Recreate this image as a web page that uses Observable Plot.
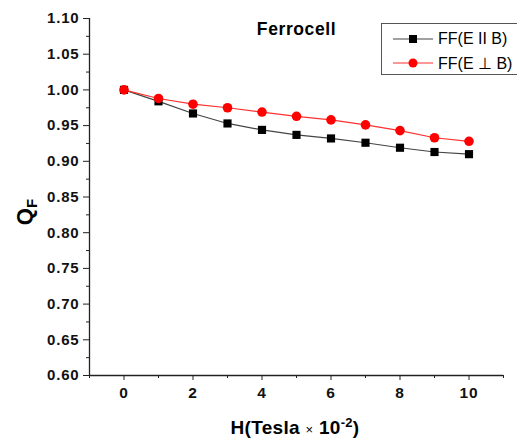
<!DOCTYPE html>
<html>
<head>
<meta charset="utf-8">
<script src="https://cdn.jsdelivr.net/npm/d3@7"></script>
<script src="https://cdn.jsdelivr.net/npm/@observablehq/plot@0.6"></script>
<style>
  html, body { margin: 0; padding: 0; background: #fff; }
  #wrap { position: relative; width: 517px; height: 443px; overflow: hidden; font-family: "Liberation Sans", Arial, sans-serif; }
  #wrap svg { display: block; }
  #wrap svg [aria-label="y-axis tick label"] text, #wrap svg [aria-label="x-axis tick label"] text { letter-spacing: 0.8px; }
  #wrap svg [aria-label="text"] text { letter-spacing: 0.6px; }
  .lbl { position: absolute; font-weight: bold; color: #000; white-space: nowrap; }
  #legend { position: absolute; left: 381px; top: 23px; width: 150px; height: 50px; border: 1px solid #555; background: #fff; font-size: 16px; }
  #legend .row { position: absolute; left: 0; height: 24px; display: flex; align-items: center; }
</style>
</head>
<body>
<div id="wrap"></div>
<script>
const fieldH = [0, 1, 2, 3, 4, 5, 6, 7, 8, 9, 10];
const qfParallel = [1.000, 0.984, 0.967, 0.953, 0.944, 0.937, 0.932, 0.926, 0.919, 0.913, 0.910];
const qfPerp     = [1.000, 0.988, 0.980, 0.975, 0.969, 0.963, 0.958, 0.951, 0.943, 0.933, 0.928];
const seriesNames = ["FF(E II B)", "FF(E \u22A5 B)"];
const yMajorTicks = [0.60, 0.65, 0.70, 0.75, 0.80, 0.85, 0.90, 0.95, 1.00, 1.05, 1.10];
const yMinorTicks = [0.625, 0.675, 0.725, 0.775, 0.825, 0.875, 0.925, 0.975, 1.025, 1.075];
const xMajorTicks = [0, 2, 4, 6, 8, 10];
const xMinorTicks = [-1, 1, 3, 5, 7, 9, 11];
const chartTitle = "Ferrocell";

const par = fieldH.map((h, i) => ({h, q: qfParallel[i]}));
const perp = fieldH.map((h, i) => ({h, q: qfPerp[i]}));

const plot = Plot.plot({
  width: 517,
  height: 443,
  marginLeft: 89,
  marginRight: 14,
  marginTop: 18,
  marginBottom: 68,
  style: {fontFamily: "'Liberation Sans', Arial, sans-serif", background: "#fff", overflow: "visible"},
  x: {domain: [-1, 11]},
  y: {domain: [0.6, 1.1]},
  marks: [
    Plot.axisY({ticks: yMinorTicks, tickSize: 3, tickFormat: () => "", label: null, stroke: "#222"}),
    Plot.axisY({ticks: yMajorTicks, tickSize: 6, tickPadding: 4, tickFormat: d3.format(".2f"), label: null, fontSize: 15, fontWeight: "bold", fill: "#111", stroke: "#222"}),
    Plot.axisX({ticks: xMinorTicks, tickSize: 3, tickFormat: () => "", label: null, stroke: "#222"}),
    Plot.axisX({ticks: xMajorTicks, tickSize: 5, tickPadding: 6, label: null, fontSize: 15.5, fontWeight: "bold", fill: "#111", stroke: "#222"}),
    Plot.ruleX([-1], {stroke: "#222", strokeWidth: 1.3}),
    Plot.ruleY([0.6], {stroke: "#222", strokeWidth: 1.3}),
    Plot.line(par, {x: "h", y: "q", stroke: "#444", strokeWidth: 1.2}),
    Plot.line(perp, {x: "h", y: "q", stroke: "#ff3030", strokeWidth: 1.2}),
    Plot.dot(par, {x: "h", y: "q", symbol: "square", r: 4.6, fill: "#000"}),
    Plot.dot(perp, {x: "h", y: "q", r: 4.8, fill: "#ff0000"}),
    Plot.text([chartTitle], {frameAnchor: "top-left", dx: 207, dy: 4, fontSize: 17.5, fontWeight: "bold", fill: "#000", lineAnchor: "top", textAnchor: "middle"})
  ]
});

const wrap = document.getElementById("wrap");
wrap.appendChild(plot);

// axis labels
const xl = document.createElement("div");
xl.className = "lbl";
xl.style.cssText = "left:0;width:590px;text-align:center;top:415px;font-size:19px;letter-spacing:0.3px;";
xl.innerHTML = 'H(Tesla <span style="font-weight:normal;font-size:13px">\u00D7</span> 10<sup style="font-size:13px">-2</sup>)';
wrap.appendChild(xl);

const yl = document.createElement("div");
yl.className = "lbl";
yl.style.cssText = "left:26px;top:212px;font-size:22px;transform:translate(-50%,-50%) rotate(-90deg);";
yl.innerHTML = 'Q<sub style="font-size:15px">F</sub>';
wrap.appendChild(yl);

// legend
const lg = document.createElement("div");
lg.id = "legend";
const markers = [
  '<svg width="56" height="24"><line x1="11" y1="12" x2="51" y2="12" stroke="#444" stroke-width="1.2"/><rect x="27" y="8" width="8" height="8" fill="#000"/></svg>',
  '<svg width="56" height="24"><line x1="11" y1="12" x2="51" y2="12" stroke="#ff3030" stroke-width="1.2"/><circle cx="31" cy="12" r="4.5" fill="#ff0000"/></svg>'
];
seriesNames.forEach((name, i) => {
  const row = document.createElement("div");
  row.className = "row";
  row.style.top = (3 + i * 24) + "px";
  row.innerHTML = markers[i] + '<span style="margin-left:0px">' + name + '</span>';
  lg.appendChild(row);
});
wrap.appendChild(lg);
</script>
</body>
</html>
